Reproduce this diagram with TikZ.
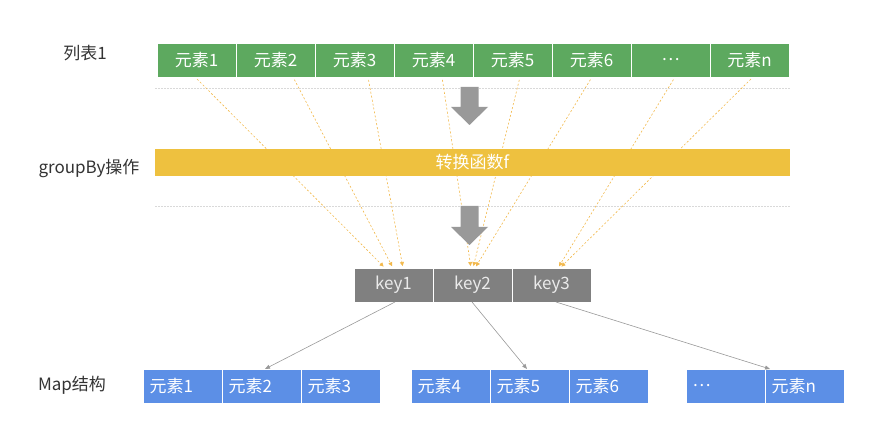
\documentclass[tikz,border=0pt]{standalone}
\usepackage{fontspec}
\setmainfont{Noto Sans CJK SC}
\usetikzlibrary{positioning,arrows.meta}
\definecolor{listgreen}{HTML}{5DA95F}
\definecolor{fnyellow}{HTML}{EEC13F}
\definecolor{keygrey}{HTML}{808080}
\definecolor{mapblue}{HTML}{5C8FE6}
\definecolor{flowline}{HTML}{F2B84B}
\definecolor{sepline}{HTML}{D9D9D9}
\definecolor{blkgrey}{HTML}{999999}
\definecolor{lbltext}{HTML}{333333}

\begin{document}
\begin{tikzpicture}[x=1pt,y=-1pt,
  elem/.style={draw=white,line width=0.6pt,fill=listgreen,text=white,font=\fontsize{17}{19}\selectfont,minimum width=79pt,minimum height=34pt,inner sep=0pt,outer sep=0pt},
  keycell/.style={elem,fill=keygrey,text=white!92!black},
  mapcell/.style={elem,fill=mapblue,text width=66pt,align=left,inner xsep=6.5pt},
  lbl/.style={text=lbltext,font=\fontsize{17}{19}\selectfont},
  bar/.style={fill=fnyellow,text=white,font=\fontsize{17}{19}\selectfont,minimum width=635pt,minimum height=27pt,inner sep=0pt},
  flow/.style={-{Triangle[length=4pt,width=4pt]},flowline,line width=0.6pt,dash pattern=on 2pt off 2pt,shorten <=3pt,shorten >=2pt},
  ptr/.style={-{Triangle[length=5pt,width=4pt]},blkgrey,line width=0.6pt},
  sep/.style={sepline,line width=0.6pt,dash pattern=on 1.5pt off 1.5pt},
  blk/.style={fill=blkgrey}
]
\useasboundingbox (0,0) rectangle (886,438);

% list row
\node[elem] (e1) at (196.5,60) {元素1};
\node[elem,right=0pt of e1] (e2) {元素2};
\node[elem,right=0pt of e2] (e3) {元素3};
\node[elem,right=0pt of e3] (e4) {元素4};
\node[elem,right=0pt of e4] (e5) {元素5};
\node[elem,right=0pt of e5] (e6) {元素6};
\node[elem,right=0pt of e6] (e7) {\ldots};
\node[elem,right=0pt of e7] (e8) {元素n};

% keys
\node[keycell] (k1) at (393.5,285) {key1};
\node[keycell,right=0pt of k1] (k2) {key2};
\node[keycell,right=0pt of k2] (k3) {key3};

% map groups
\node[mapcell] (m1) at (182.5,386) {元素1};
\node[mapcell,right=0pt of m1] (m2) {元素2};
\node[mapcell,right=0pt of m2] (m3) {元素3};
\node[mapcell] (m4) at (450.5,386) {元素4};
\node[mapcell,right=0pt of m4] (m5) {元素5};
\node[mapcell,right=0pt of m5] (m6) {元素6};
\node[mapcell] (m7) at (725.5,386) {\ldots};
\node[mapcell,right=0pt of m7] (m8) {元素n};

% row labels
\node[lbl] (l1) at (85,53) {列表1};
\node[lbl] (l2) at (89,168) {groupBy操作};
\node[lbl] (l3) at (72,385) {Map结构};

\draw[sep] (155,88) -- (790,88);
\draw[sep] (155,206) -- (790,206);

% element -> key
\draw[flow] ([xshift=-1.5pt]e1.south) -- ([xshift=-8.5pt]k1.north);
\draw[flow] ([xshift=17.5pt]e2.south) -- ([xshift=-0.5pt]k1.north);
\draw[flow] ([xshift=13.5pt]e3.south) -- ([xshift=9.5pt]k1.north);
\draw[flow] ([xshift=8.5pt]e4.south) -- ([xshift=-1.5pt]k2.north);
\draw[flow] ([xshift=7.5pt]e5.south) -- ([xshift=0.5pt]k2.north);
\draw[flow] ([xshift=0.5pt]e6.south) -- ([xshift=2.5pt]k2.north);
\draw[flow] ([xshift=4.5pt]e7.south) -- ([xshift=6.5pt]k3.north);
\draw[flow] ([xshift=3.5pt]e8.south) -- ([xshift=8.5pt]k3.north);

\node[bar] (fn) at (472.5,162.5) {转换函数f};

\fill[blk] (460.5,87) -- (478.5,87) -- (478.5,107) -- (488,107) -- (469.5,125) -- (451,107) -- (460.5,107) -- cycle;
\fill[blk] (460.5,206) -- (478.5,206) -- (478.5,227) -- (488,227) -- (469.5,245) -- (451,227) -- (460.5,227) -- cycle;

% key -> map group
\draw[ptr] ([xshift=1.5pt]k1.south) -- ([xshift=3.5pt]m2.north);
\draw[ptr] ([xshift=-0.5pt]k2.south) -- ([xshift=-2.5pt]m5.north);
\draw[ptr] ([xshift=4.5pt]k3.south) -- ([xshift=5pt]m8.north west);
\end{tikzpicture}
\end{document}
